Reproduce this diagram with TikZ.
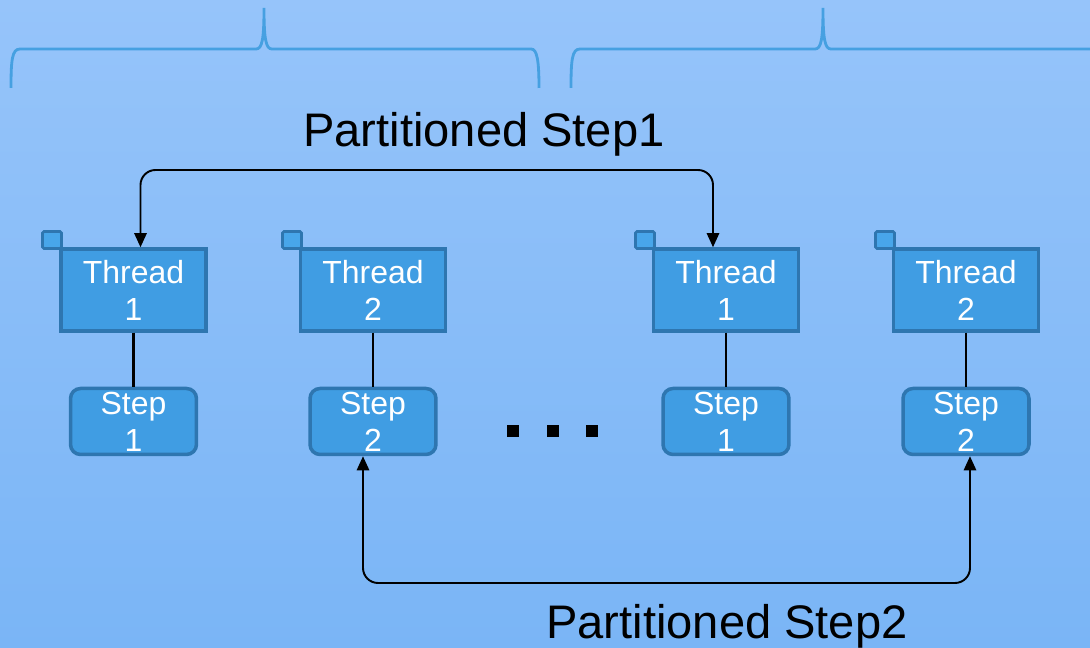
\documentclass[tikz,border=0pt]{standalone}
\usepackage{fontspec}
\setmainfont{Liberation Sans}
\usetikzlibrary{arrows.meta,positioning,calc}

\definecolor{bgtop}{RGB}{150,196,250}
\definecolor{bgbot}{RGB}{122,181,246}
\definecolor{boxfill}{RGB}{64,157,227}
\definecolor{boxline}{RGB}{46,118,176}
\definecolor{flagfill}{RGB}{72,166,234}
\definecolor{bracecol}{RGB}{70,160,225}

\tikzset{
  threadbox/.style={draw=boxline, fill=boxfill, line width=2pt,
    minimum width=2.9cm, minimum height=1.64cm, inner sep=0pt,
    align=center, text=white, font=\fontsize{18.2}{21}\selectfont},
  stepbox/.style={threadbox, rounded corners=0.2cm,
    minimum width=2.52cm, minimum height=1.32cm},
  flagbox/.style={draw=boxline, fill=flagfill, line width=1.6pt,
    rounded corners=0.03cm, minimum width=0.38cm, minimum height=0.34cm, inner sep=0pt},
  link/.style={line width=1.3pt},
  flow/.style={line width=1.1pt, rounded corners=0.3cm,
    {Triangle[length=8pt,width=7pt]}-{Triangle[length=8pt,width=7pt]}},
  bracepath/.style={draw=bracecol, line width=1.6pt},
  titletext/.style={font=\fontsize{26.8}{30}\selectfont, inner sep=0pt, anchor=base},
}

\begin{document}
\begin{tikzpicture}[x=0.02cm, y=-0.02cm]
          \useasboundingbox (0,0) rectangle (1090,648);
          \clip (0,0) rectangle (1090,648);
          \fill[top color=bgtop, bottom color=bgbot] (0,0) rectangle (1090,648);

          % braces
          \draw[bracepath] (11,88) .. controls (11,60) and (12,49) .. (20,49) -- (256,49)
            .. controls (262,49) and (264,40) .. (264,8)
            .. controls (264,40) and (266,49) .. (272,49) -- (531,49)
            .. controls (537,49) and (539,60) .. (539,88);
          \draw[bracepath] (571,88) .. controls (571,60) and (572,49) .. (580,49) -- (815,49)
            .. controls (821,49) and (823,40) .. (823,8)
            .. controls (823,40) and (825,49) .. (831,49) -- (1100,49);

          \node[titletext] (part1) at (484,147) {Partitioned Step1};
          \node[titletext] (part2) at (727,639) {Partitioned Step2};

          \node[flagbox] (flA) at (52,240) {};
          \node[flagbox] (flB) at (292,240) {};
          \node[flagbox] (flC) at (645,240) {};
          \node[flagbox] (flD) at (885,240) {};

          \node[threadbox] (thA) at (133.5,290) {Thread\\1};
          \node[threadbox] (thB) at (373,290) {Thread\\2};
          \node[threadbox] (thC) at (726,290) {Thread\\1};
          \node[threadbox] (thD) at (966,290) {Thread\\2};

          \node[stepbox, below=1.08cm of thA] (stA) {Step\\1};
          \node[stepbox, below=1.08cm of thB] (stB) {Step\\2};
          \node[stepbox, below=1.08cm of thC] (stC) {Step\\1};
          \node[stepbox, below=1.08cm of thD] (stD) {Step\\2};

          \draw[link] (thA) -- (stA);
          \draw[link] (thB) -- (stB);
          \draw[link] (thC) -- (stC);
          \draw[link] (thD) -- (stD);

          \foreach \x in {507,547,586}
            \fill (\x,425) rectangle ++(12,12);

          \coordinate (topbar) at (426,170);
          \coordinate (botbar) at (666,583);
          \draw[flow] ($(thA.north)+(7,0)$) |- (topbar) -| ($(thC.north)+(-13,0)$);
          \draw[flow] ($(stB.south)+(-10,0)$) |- (botbar) -| ($(stD.south)+(4,0)$);

\end{tikzpicture}
\end{document}
